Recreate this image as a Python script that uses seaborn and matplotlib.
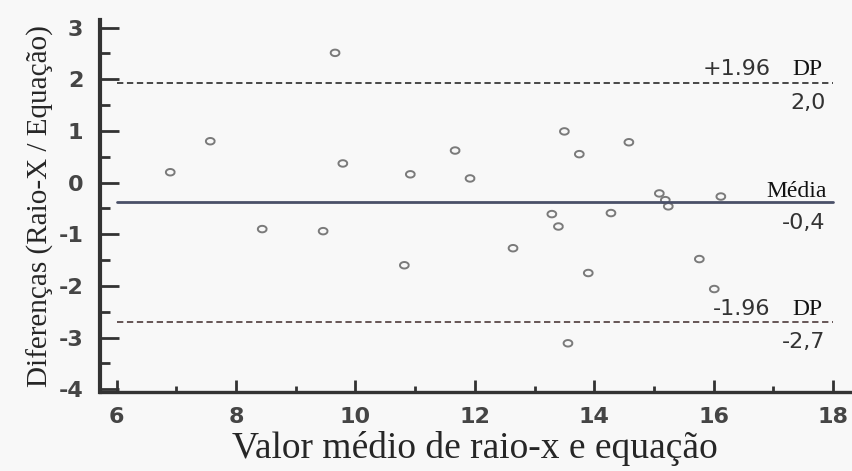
import numpy as np
import pandas as pd
import matplotlib
matplotlib.use('Agg')
import matplotlib.pyplot as plt
from matplotlib.path import Path
from matplotlib.ticker import MultipleLocator
import seaborn as sns

# valores (Bland-Altman)
media_xy = [6.90, 7.57, 8.44, 9.46, 9.66, 9.79, 10.82, 10.92, 11.67, 11.92,
            12.64, 13.29, 13.40, 13.50, 13.75, 13.56, 13.90, 14.28, 14.58,
            15.09, 15.19, 15.24, 16.12, 15.76, 16.01]
diferenca = [0.20, 0.80, -0.90, -0.94, 2.51, 0.37, -1.60, 0.16, 0.62, 0.08,
             -1.27, -0.61, -0.85, 0.99, 0.55, -3.11, -1.75, -0.59, 0.78,
             -0.21, -0.34, -0.46, -0.27, -1.48, -2.06]
media_dif = -0.38
lim_sup = 1.93
lim_inf = -2.69
rotulos = ['2,0', '-0,4', '-2,7']

df = pd.DataFrame({'x': media_xy, 'y': diferenca})

sns.set_style('white')
plt.rcParams['font.family'] = ['DejaVu Sans']
plt.rcParams['axes.unicode_minus'] = False
bg = '#f8f8f8'

fig = plt.figure(figsize=(8.53, 4.71), dpi=100, facecolor=bg)
ax = fig.add_axes([0.117, 0.168, 0.88, 0.79], facecolor=bg)

# marcador eliptico (imagem original levemente achatada)
t = np.linspace(0, 2 * np.pi, 40)
elipse = Path(np.column_stack([1.35 * np.cos(t), np.sin(t)]))

sns.scatterplot(data=df, x='x', y='y', ax=ax, marker=elipse, s=40,
                facecolors='none', edgecolor='#7a7a7a', linewidth=1.4)

ax.plot([6, 18], [lim_sup, lim_sup], ls=(0, (3.5, 2)), color='#3a3a3a', lw=1.3)
ax.plot([6, 18], [media_dif, media_dif], ls='-', color='#4a5068', lw=2.0)
ax.plot([6, 18], [lim_inf, lim_inf], ls=(0, (3.5, 2)), color='#5a4848', lw=1.3)

ax.set_xlim(5.72, 18.29)
ax.set_ylim(-4.05, 3.15)
ax.xaxis.set_major_locator(MultipleLocator(2))
ax.xaxis.set_minor_locator(MultipleLocator(1))
ax.yaxis.set_major_locator(MultipleLocator(1))
ax.yaxis.set_minor_locator(MultipleLocator(0.5))
ax.tick_params(axis='both', which='both', bottom=True, left=True,
               direction='in', color='#333333', width=2)
ax.tick_params(axis='x', which='major', length=9, pad=11)
ax.tick_params(axis='x', which='minor', length=4)
ax.tick_params(axis='y', which='major', length=14, pad=12)
ax.tick_params(axis='y', which='minor', length=7)

sns.despine(ax=ax)
ax.spines['left'].set_linewidth(3)
ax.spines['bottom'].set_linewidth(2.4)
ax.spines['left'].set_color('#333333')
ax.spines['bottom'].set_color('#333333')

ax.set_xlabel('Valor médio de raio-x e equação', family='Liberation Serif',
              fontsize=27, labelpad=3)
ax.set_ylabel('Diferenças (Raio-X / Equação)', family='Liberation Serif',
              fontsize=21, labelpad=3)

# rotulos das linhas
sans = dict(family='DejaVu Sans', fontsize=16, color='#333333', ha='right')
serif = dict(family='Liberation Serif', fontsize=17, color='#111111', ha='right')
ax.text(17.83, lim_sup + 0.15, 'DP', va='baseline', **serif)
ax.text(16.95, lim_sup + 0.15, '+1.96', va='baseline', **sans)
ax.text(17.87, lim_sup - 0.2, rotulos[0], va='top', **sans)
ax.text(17.9, media_dif + 0.1, 'Média', va='baseline', **serif)
ax.text(17.87, media_dif - 0.2, rotulos[1], va='top', **sans)
ax.text(17.83, lim_inf + 0.13, 'DP', va='baseline', **serif)
ax.text(16.95, lim_inf + 0.13, '-1.96', va='baseline', **sans)
ax.text(17.87, lim_inf - 0.2, rotulos[2], va='top', **sans)

fig.canvas.draw()
plt.setp(ax.get_xticklabels() + ax.get_yticklabels(), fontsize=16,
         fontweight='bold', color='#454545')

fig.savefig('out.png', dpi=100, facecolor=bg)
